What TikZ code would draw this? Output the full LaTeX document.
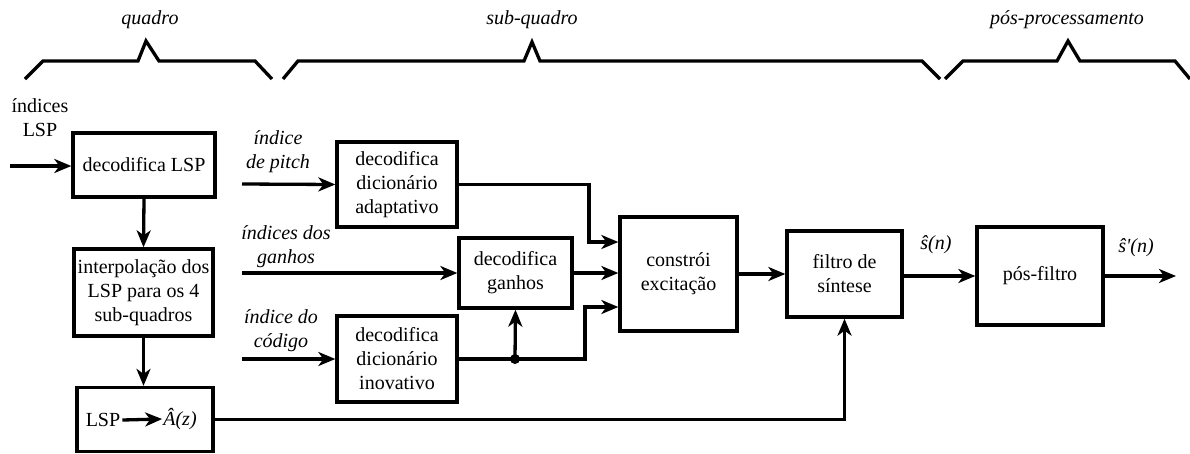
\documentclass[tikz,border=0pt]{standalone}
\usepackage{fontspec}
\setmainfont{DejaVu Serif}
\newfontfamily\tms{Liberation Serif}
\usetikzlibrary{arrows.meta}
\begin{document}
\begin{tikzpicture}[x=1pt,y=-1pt,
  every node/.style={font=\tms\fontsize{20}{24}\selectfont},
  blk/.style={draw,line width=3.3pt,rectangle,inner sep=0pt,align=center},
  lbl/.style={align=center,inner sep=0pt,font=\tms\fontsize{20}{24}\selectfont\itshape},
  arr/.style={line width=3.3pt,-{Stealth[length=17pt,width=14pt,inset=5pt]}},
  brace/.style={line width=3.3pt,line join=miter}]
\useasboundingbox (0,0) rectangle (1190,453);

% braces
\draw[brace] (25,79) -- (43,61) -- (138,61) -- (146,41) -- (159,61) -- (255,61) -- (272,79);
\draw[brace] (283,79) -- (298,61) -- (524,61) -- (532,42) -- (540,61) -- (922,61) -- (940,79);
\draw[brace] (945,79) -- (963,61) -- (1057,61) -- (1068,41) -- (1080,61) -- (1175,61) -- (1190,79);
\node[lbl] (tq) at (150,20) {quadro};
\node[lbl] (tsq) at (532,20) {sub-quadro};
\node[lbl] (tpp) at (1067,20) {pós-processamento};

% blocks
\node[blk,minimum width=142pt,minimum height=64pt] (declsp) at (144,165) {decodifica LSP};
\node[blk,minimum width=139pt,minimum height=87pt] (interp) at (143.5,292.5) {interpolação dos\\LSP para os 4\\sub-quadros};
\node[blk,minimum width=136pt,minimum height=64pt] (lspbox) at (145,419.5) {};
\node[inner sep=0pt] (lspt) at (103,420) {LSP};
\node[inner sep=0pt,font=\tms\fontsize{20}{24}\selectfont\itshape] (ahat) at (180,419) {Â(z)};
\node[blk,minimum width=120pt,minimum height=85pt] (adapt) at (397,184.5) {decodifica\\dicionário\\adaptativo};
\node[blk,minimum width=113pt,minimum height=70pt] (ganhos) at (515.5,273) {decodifica\\ganhos};
\node[blk,minimum width=120pt,minimum height=86pt] (inov) at (397,359) {decodifica\\dicionário\\inovativo};
\node[blk,minimum width=117pt,minimum height=114pt] (constroi) at (678.5,274) {constrói\\excitação};
\node[blk,minimum width=115pt,minimum height=86pt] (filtro) at (844.5,274) {filtro de\\síntese};
\node[blk,minimum width=126pt,minimum height=98pt] (posf) at (1040,276) {pós-filtro};

% labels
\node[align=center,inner sep=0pt] (indlsp) at (40,118) {índices\\LSP};
\node[lbl] (lpitch) at (278,152) {índice\\de pitch};
\node[lbl] (lganhos) at (286,247) {índices dos\\ganhos};
\node[lbl] (lcod) at (281,331) {índice do\\código};
\node[lbl] (ls) at (936,245) {ŝ(n)};
\node[lbl] (ls2) at (1136,248) {ŝ\textquotesingle(n)};

% coordinates
\coordinate (inlsp) at (10,166);
\coordinate (inpitch) at (242,184);
\coordinate (ingain) at (242,273);
\coordinate (incode) at (242,359);
\coordinate (b1) at (589,242);
\coordinate (b2) at (585,307);
\coordinate (dot) at (515,359);
\coordinate (out) at (1176,276);

% connectors
\draw[arr] (inlsp) -- (declsp.west |- inlsp);
\draw[arr] (declsp.south) -- (interp.north);
\draw[arr] (interp.south) -- (interp.south |- lspbox.north);
\draw[arr] ([xshift=2pt]lspt.east) -- ([xshift=-1pt]ahat.west);
\draw[arr] (lspbox.east) -| (filtro.south);
\draw[arr] (inpitch) -- (adapt.west);
\draw[arr] (ingain) -- (ganhos.west);
\draw[arr] (incode) -- (inov.west);
\draw[arr] (adapt.east) -| (b1) -- (b1 -| constroi.west);
\draw[arr] (ganhos.east) -- (ganhos.east -| constroi.west);
\draw[arr] (inov.east) -| (b2) -- (b2 -| constroi.west);
\fill (dot) circle (5pt);
\draw[arr] (dot) -- (ganhos.south);
\draw[arr] (constroi.east) -- (filtro.west);
\draw[arr] (filtro.east |- posf.west) -- (posf.west);
\draw[arr] (posf.east) -- (out);
\end{tikzpicture}
\end{document}
